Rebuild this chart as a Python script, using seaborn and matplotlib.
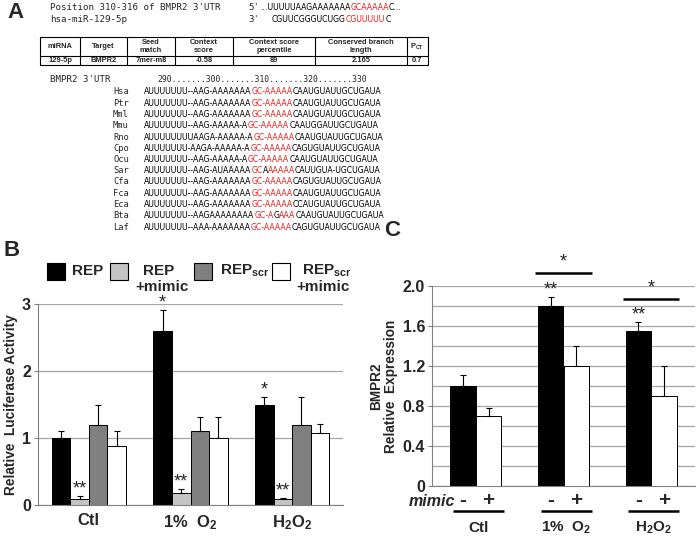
import numpy as np
import pandas as pd
import seaborn as sns
import matplotlib
matplotlib.use('Agg')
from matplotlib import pyplot as plt
from matplotlib import font_manager
from matplotlib.patches import Rectangle
from matplotlib.transforms import blended_transform_factory

# ---- panel A data ----
site_labels = ["Position 310-316 of BMPR2 3'UTR", "hsa-miR-129-5p"]
site_ends = ["5'", "3'"]
site_runs = [[("...UUUUUAAGAAAAAAA", 0), ("GCAAAAA", 1), ("C...", 0)],
             [("CGUUCGGGUCUGG", 0), ("CGUUUUU", 1), ("C", 0)]]

table_header = ["miRNA", "Target", "Seed\nmatch", "Context\nscore", "Context score\npercentile",
                "Conserved branch\nlength", "P$_{CT}$"]
table_row = ["129-5p", "BMPR2", "7mer-m8", "-0.58", "89", "2.165", "0.7"]

ruler = "290.......300.......310.......320.......330"
species = ["Hsa", "Ptr", "Mml", "Mmu", "Rno", "Cpo", "Ocu", "Sar", "Cfa", "Fca", "Eca", "Bta", "Laf"]
alignment = [
    "AUUUUUUU--AAG-AAAAAAAGC-AAAAACAAUGUAUUGCUGAUA",
    "AUUUUUUU--AAG-AAAAAAAGC-AAAAACAAUGUAUUGCUGAUA",
    "AUUUUUUU--AAG-AAAAAAAGC-AAAAACAAUGUAUUGCUGAUA",
    "AUUUUUUU--AAG-AAAAA-AGC-AAAAACAAUGGAUUGCUGAUA",
    "AUUUUUUUUAAGA-AAAAA-AGC-AAAAACAAUGUAUUGCUGAUA",
    "AUUUUUUU-AAGA-AAAAA-AGC-AAAAACAGUGUAUUGCUGAUA",
    "AUUUUUUU--AAG-AAAAA-AGC-AAAAACAAUGUAUUGCUGAUA",
    "AUUUUUUU--AAG-AUAAAAAGCAAAAAACAUUGUA-UGCUGAUA",
    "AUUUUUUU--AAG-AAAAAAAGC-AAAAACAGUGUAUUGCUGAUA",
    "AUUUUUUU--AAG-AAAAAAAGC-AAAAACAAUGUAUUGCUGAUA",
    "AUUUUUUU--AAG-AAAAAAAGC-AAAAACCAUGUAUUGCUGAUA",
    "AUUUUUUU--AAGAAAAAAAAGC-AGAAACAAUGUAUUGCUGAUA",
    "AUUUUUUU--AAA-AAAAAAAGC-AAAAACAGUGUAUUGCUGAUA",
]
site_span = (21, 29)
site_mismatch = {"Sar": 23, "Bta": 25}

# ---- panel B data ----
conditions = ["Ctl", "1%  O$_2$", "H$_2$O$_2$"]
constructs = ["REP", "REP+mimic", "REPscr", "REPscr+mimic"]
luc_rep = [1.0, 2.6, 1.49]
luc_rep_mimic = [0.09, 0.18, 0.09]
luc_scr = [1.19, 1.1, 1.19]
luc_scr_mimic = [0.88, 1.0, 1.08]
luc_rep_err = [0.1, 0.31, 0.12]
luc_rep_mimic_err = [0.04, 0.06, 0.02]
luc_scr_err = [0.31, 0.21, 0.42]
luc_scr_mimic_err = [0.22, 0.31, 0.13]
luc_marks = [["", "*", "*"], ["**", "**", "**"], ["", "", ""], ["", "", ""]]

# ---- panel C data ----
treatments = ["mimic -", "mimic +"]
expr_ctl = [1.0, 1.8, 1.55]
expr_mimic = [0.7, 1.2, 0.9]
expr_ctl_err = [0.11, 0.09, 0.09]
expr_mimic_err = [0.08, 0.2, 0.3]
expr_marks = [["", "**", "**"], ["", "", ""]]

RED = '#e8211f'

sns.set_style('white')
plt.rcParams['font.family'] = ['Liberation Sans', 'DejaVu Sans']
plt.rcParams['mathtext.fontset'] = 'custom'
plt.rcParams['mathtext.rm'] = 'Liberation Sans:bold'
plt.rcParams['mathtext.bf'] = 'Liberation Sans:bold'
plt.rcParams['mathtext.default'] = 'rm'

try:
    font_manager.findfont(font_manager.FontProperties(family='Liberation Sans Narrow'),
                          fallback_to_default=False)
    SEQ_FONT, SEQ_SIZE = 'Liberation Sans Narrow', 7.0
except ValueError:
    SEQ_FONT, SEQ_SIZE = 'DejaVu Sans', 5.6
MONO = 'DejaVu Sans Mono'

fig = plt.figure(figsize=(6.96, 5.37), dpi=100)

# overlay in pixel coordinates for panel A, letters and legend
ov = fig.add_axes([0, 0, 1, 1], zorder=0)
ov.set_xlim(0, 696)
ov.set_ylim(537, 0)
ov.axis('off')


def draw_runs(x, y, runs, **kw):
    t = ov.text(x, y, runs[0][0], color=runs[0][1], va='center', ha='left', **kw)
    for s, c in runs[1:]:
        t = ov.annotate(s, xy=(1, 0), xycoords=t, va='bottom', ha='left', color=c, **kw)
    return t


ov.text(16, 13, "A", fontsize=16, fontweight='bold', ha='center', va='center')
ov.text(12, 250, "B", fontsize=16, fontweight='bold', ha='center', va='center')
ov.text(392, 230, "C", fontsize=16, fontweight='bold', ha='center', va='center')

# site lines
for i, (lbl, end, runs) in enumerate(zip(site_labels, site_ends, site_runs)):
    y = 7 + i * 12
    ov.text(50, y, lbl, family=MONO, fontsize=6.6, va='center')
    ov.text(248, y, end, family=MONO, fontsize=6.6, va='center')
    x0 = 260 if i == 0 else 272
    draw_runs(x0, y, [(s, RED if r else 'black') for s, r in runs], family=SEQ_FONT, fontsize=SEQ_SIZE)

# TargetScan table
col_edges = [40, 80, 127, 175, 233, 315, 407, 428]
t_top, t_mid, t_bot = 37, 56, 65
for yy in [t_top, t_mid, t_bot]:
    ov.plot([col_edges[0], col_edges[-1]], [yy, yy], color='black', lw=0.8)
for xx in col_edges:
    ov.plot([xx, xx], [t_top, t_bot], color='black', lw=0.8)
for j, (h, v) in enumerate(zip(table_header, table_row)):
    xc = (col_edges[j] + col_edges[j + 1]) / 2
    ov.text(xc, (t_top + t_mid) / 2, h, ha='center', va='center', fontsize=5.4,
            fontweight='bold', linespacing=1.0, multialignment='center')
    ov.text(xc, (t_mid + t_bot) / 2 + 0.5, v, ha='center', va='center', fontsize=5.4, fontweight='bold')

# alignment
ov.text(50, 80, "BMPR2 3'UTR", family=MONO, fontsize=6.6, va='center')
ov.text(157, 80, ruler, family=MONO, fontsize=5.9, va='center')
for i, (sp, seq) in enumerate(zip(species, alignment)):
    y = 92 + i * 11.25
    ov.text(113, y, sp, family=MONO, fontsize=6.3, va='center')
    runs = []
    for j, ch in enumerate(seq):
        red = site_span[0] <= j < site_span[1] and site_mismatch.get(sp) != j
        c = RED if red else 'black'
        if runs and runs[-1][1] == c:
            runs[-1][0] += ch
        else:
            runs.append([ch, c])
    draw_runs(144, y, runs, family=SEQ_FONT, fontsize=SEQ_SIZE)

# ---- panel B ----
b_colors = dict(zip(constructs, ['black', '#c4c4c4', '#808080', 'white']))
luc_vals = [luc_rep, luc_rep_mimic, luc_scr, luc_scr_mimic]
luc_errs = [luc_rep_err, luc_rep_mimic_err, luc_scr_err, luc_scr_mimic_err]
df_b = pd.DataFrame({
    'condition': np.repeat([conditions], len(constructs), axis=0).ravel(),
    'construct': np.repeat(constructs, len(conditions)),
    'value': np.concatenate(luc_vals),
})

ax_b = fig.add_axes([38 / 696, 1 - 505 / 537, 305 / 696, 201 / 537], zorder=2)
sns.barplot(data=df_b, x='condition', y='value', hue='construct', order=conditions,
            hue_order=constructs, palette=b_colors, saturation=1, width=0.73,
            edgecolor='black', linewidth=0.7, errorbar=None, legend=False, ax=ax_b)

for cont, errs, marks in zip(ax_b.containers, luc_errs, luc_marks):
    xs = np.array([p.get_x() + p.get_width() / 2 for p in cont])
    ys = np.array([p.get_height() for p in cont])
    ax_b.errorbar(xs, ys, yerr=[np.zeros(len(ys)), errs], fmt='none', ecolor='black',
                  elinewidth=0.8, capsize=2.5, capthick=0.8, zorder=4)
    for x, y, e, m in zip(xs, ys, errs, marks):
        if m:
            ax_b.annotate(m, xy=(x, y + e), xytext=(0, 5), textcoords='offset points',
                          ha='center', va='center', fontsize=13, annotation_clip=False)

ax_b.set_ylim(0, 3)
ax_b.set_xlim(-0.5, 2.5)
ax_b.set_yticks([0, 1, 2, 3])
ax_b.set_yticklabels(['0', '1', '2', '3'], fontsize=11.5, fontweight='bold')
ax_b.set_xticks([0, 1, 2])
ax_b.set_xticklabels(conditions, fontsize=12, fontweight='bold')
ax_b.set_xticks([0.5, 1.5], minor=True)
ax_b.tick_params(axis='x', which='major', length=0, pad=6)
ax_b.tick_params(axis='x', which='minor', length=4, color='#808080', width=0.8)
ax_b.tick_params(axis='y', length=3, color='#808080', width=0.8, pad=2, left=True)
ax_b.yaxis.grid(True, color='#a6a6a6', lw=0.9)
ax_b.set_axisbelow(True)
for s in ['top', 'right']:
    ax_b.spines[s].set_visible(False)
for s in ['left', 'bottom']:
    ax_b.spines[s].set_color('#808080')
    ax_b.spines[s].set_linewidth(0.8)
ax_b.set_xlabel('')
ax_b.set_ylabel('Relative  Luciferase Activity', fontsize=9.8, fontweight='bold')
ax_b.yaxis.set_label_coords(-0.066, 0.5)

# legend for B
leg_boxes = [47, 110, 194, 272]
for c, x in zip(constructs, leg_boxes):
    ov.add_patch(Rectangle((x, 263), 18, 17, facecolor=b_colors[c], edgecolor='black', lw=0.8))
ov.text(72, 271, "REP", fontsize=11, fontweight='bold', va='center')
ov.text(143, 271, "REP", fontsize=11, fontweight='bold', va='center')
ov.text(135, 287, "+mimic", fontsize=11, fontweight='bold', va='center')
ov.text(220, 271, "REP$_{scr}$", fontsize=11, fontweight='bold', va='center')
ov.text(302, 271, "REP$_{scr}$", fontsize=11, fontweight='bold', va='center')
ov.text(296, 287, "+mimic", fontsize=11, fontweight='bold', va='center')

# ---- panel C ----
df_c = pd.DataFrame({
    'condition': np.repeat([conditions], len(treatments), axis=0).ravel(),
    'treatment': np.repeat(treatments, len(conditions)),
    'value': np.concatenate([expr_ctl, expr_mimic]),
})
ax_c = fig.add_axes([432 / 696, 1 - 486 / 537, 263 / 696, 200 / 537], zorder=2)
sns.barplot(data=df_c, x='condition', y='value', hue='treatment', order=conditions,
            hue_order=treatments, palette=['black', 'white'], saturation=1, width=0.58,
            edgecolor='black', linewidth=0.7, errorbar=None, legend=False, ax=ax_c)

c_errs = [expr_ctl_err, expr_mimic_err]
bar_edges = []
for cont, errs, marks in zip(ax_c.containers, c_errs, expr_marks):
    xs = np.array([p.get_x() + p.get_width() / 2 for p in cont])
    ys = np.array([p.get_height() for p in cont])
    bar_edges.append([(p.get_x(), p.get_x() + p.get_width()) for p in cont])
    ax_c.errorbar(xs, ys, yerr=[np.zeros(len(ys)), errs], fmt='none', ecolor='black',
                  elinewidth=0.8, capsize=2.5, capthick=0.8, zorder=4)
    for x, y, e, m in zip(xs, ys, errs, marks):
        if m:
            ax_c.annotate(m, xy=(x, y + e), xytext=(0, 5), textcoords='offset points',
                          ha='center', va='center', fontsize=13, annotation_clip=False)

ax_c.set_ylim(0, 2.0)
ax_c.set_xlim(-0.5, 2.5)
ax_c.set_yticks(np.arange(0, 2.01, 0.4))
ax_c.set_yticklabels(['0', '0.4', '0.8', '1.2', '1.6', '2.0'], fontsize=11.5, fontweight='bold')
ax_c.set_yticks(np.arange(0.2, 2.0, 0.4), minor=True)
ax_c.set_xticks([0, 1, 2])
ax_c.set_xticklabels([])
ax_c.set_xticks([0.5, 1.5], minor=True)
ax_c.tick_params(axis='x', which='major', length=0)
ax_c.tick_params(axis='x', which='minor', length=4, color='#808080', width=0.8)
ax_c.tick_params(axis='y', which='major', length=3, color='#808080', width=0.8, pad=2, left=True)
ax_c.tick_params(axis='y', which='minor', length=0)
ax_c.yaxis.grid(True, which='both', color='#a6a6a6', lw=0.9)
ax_c.set_axisbelow(True)
for s in ['top', 'right']:
    ax_c.spines[s].set_visible(False)
for s in ['left', 'bottom']:
    ax_c.spines[s].set_color('#808080')
    ax_c.spines[s].set_linewidth(0.8)
ax_c.set_xlabel('')
ax_c.set_ylabel('BMPR2\nRelative  Expression', fontsize=9.8, fontweight='bold', linespacing=1.1)
ax_c.yaxis.set_label_coords(-0.13, 0.5)

# significance brackets between - and + mimic
for g, y_line in [(1, 2.13), (2, 1.87)]:
    x1 = bar_edges[0][g][0] - 0.03
    x2 = bar_edges[1][g][1] + 0.03
    ax_c.plot([x1, x2], [y_line, y_line], color='black', lw=1.8, clip_on=False,
              solid_capstyle='butt')
    ax_c.annotate('*', xy=((x1 + x2) / 2, y_line), xytext=(0, 8), textcoords='offset points',
                  ha='center', va='center', fontsize=13, annotation_clip=False)

# mimic -/+ row and group underlines
trans = blended_transform_factory(ax_c.transData, ax_c.transAxes)
ax_c.text(bar_edges[0][0][0] + 0.05, -0.08, 'mimic', transform=trans, ha='right', va='center',
          fontsize=11.5, fontweight='bold', fontstyle='italic')
for g in range(len(conditions)):
    for k, sign in enumerate(['-', '+']):
        xc = sum(bar_edges[k][g]) / 2
        ax_c.text(xc, -0.075, sign, transform=trans, ha='center', va='center',
                  fontsize=15, fontweight='bold')
    x1 = bar_edges[0][g][0] + 0.03
    x2 = bar_edges[1][g][1] + 0.03
    ax_c.plot([x1, x2], [-0.125, -0.125], transform=trans, color='black', lw=1.8,
              clip_on=False, solid_capstyle='butt')
    ax_c.text((x1 + x2) / 2, -0.21, conditions[g], transform=trans, ha='center', va='center',
              fontsize=11, fontweight='bold')

fig.savefig('out.png', dpi=100)
